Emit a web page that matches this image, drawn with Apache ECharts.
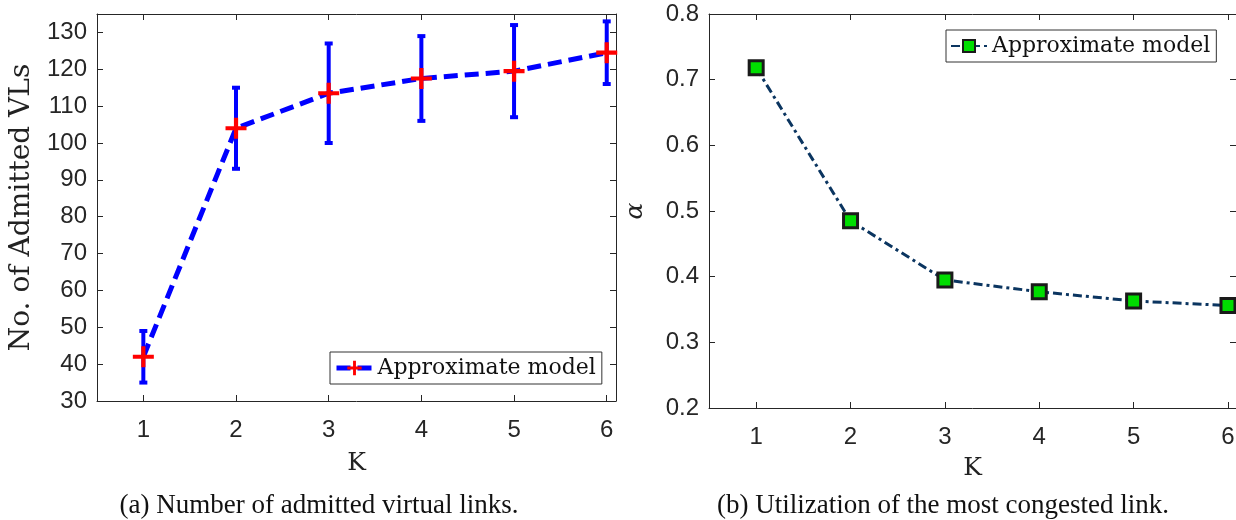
<!DOCTYPE html>
<html>
<head>
<meta charset="utf-8">
<script src="https://cdn.jsdelivr.net/npm/echarts@6/dist/echarts.min.js"></script>
<style>
  html, body { margin: 0; padding: 0; background: #fff; }
  #wrap { position: relative; width: 1236px; height: 520px; }
  .pane { position: absolute; top: 0; width: 618px; height: 520px; }
  #left { left: 0; }
  #right { left: 618px; }
</style>
</head>
<body>
<div id="wrap">
  <div id="left" class="pane"></div>
  <div id="right" class="pane"></div>
</div>
<script>
// K values (x axis)
var kValues = [1, 2, 3, 4, 5, 6];
// (a) admitted VLs: mean, lower and upper error bar ends
var admitted = [42, 104, 113.5, 117.5, 119.5, 124.5];
var admittedLow = [35, 93, 100, 106, 107, 116];
var admittedHigh = [49, 115, 127, 129, 132, 133];
// (b) utilization of the most congested link
var alphaValues = [0.718, 0.485, 0.395, 0.377, 0.363, 0.356];
// tick labels
var kTicks = [1, 2, 3, 4, 5, 6];
var yTicksA = [30, 40, 50, 60, 70, 80, 90, 100, 110, 120, 130];

var tickFont = { fontFamily: 'Liberation Sans', fontSize: 24, color: '#262626' };
var serif = 'DejaVu Serif';
var spine = '#262626';

function frameAxis(extra) {
    var a = {
        axisLine: { show: true, lineStyle: { color: spine, width: 1 } },
        axisTick: { show: true, inside: true, length: 6, lineStyle: { color: spine } },
        splitLine: { show: false }
    };
    for (var k in extra) a[k] = extra[k];
    return a;
}

// ---------- (a) ----------
(function () {
    var myChart = echarts.init(document.getElementById('left'));
    var lineData = kValues.map(function (k, i) { return [k, admitted[i]]; });
    var errData = kValues.map(function (k, i) { return [k, admittedLow[i], admittedHigh[i]]; });

    var option = {
        animation: false,
        title: {
            text: '(a) Number of admitted virtual links.',
            left: 314, top: 487, textAlign: 'center',
            textStyle: { fontFamily: 'Liberation Serif', fontSize: 27, fontWeight: 'normal', color: '#111' }
        },
        grid: { left: 97, right: 2, top: 14, bottom: 119, outerBoundsMode: 'none' },
        legend: {
            left: 330, top: 352,
            padding: [5, 6, 5, 4],
            itemWidth: 36, itemHeight: 18, itemGap: 4,
            borderColor: '#333', borderWidth: 1, backgroundColor: '#fff',
            lineStyle: { width: 5 },
            data: ['Approximate model'],
            textStyle: { fontFamily: serif, fontSize: 22, color: '#111' }
        },
        xAxis: [
            frameAxis({
                type: 'value', min: 0.5, max: 6.1, position: 'bottom',
                name: 'K', nameLocation: 'middle', nameGap: 50,
                nameTextStyle: { fontFamily: serif, fontSize: 25, color: '#222' },
                axisTick: { show: true, inside: true, length: 6, lineStyle: { color: spine }, customValues: kTicks },
                axisLabel: { customValues: kTicks, margin: 17, fontFamily: tickFont.fontFamily, fontSize: tickFont.fontSize, color: tickFont.color }
            }),
            frameAxis({
                type: 'value', min: 0.5, max: 6.1, position: 'top',
                axisTick: { show: true, inside: true, length: 6, lineStyle: { color: spine }, customValues: kTicks },
                axisLabel: { show: false }
            })
        ],
        yAxis: [
            frameAxis({
                type: 'value', min: 30, max: 135, position: 'left',
                name: 'No. of Admitted VLs', nameLocation: 'middle', nameGap: 61,
                nameTextStyle: { fontFamily: serif, fontSize: 28, color: '#222' },
                axisTick: { show: true, inside: true, length: 6, lineStyle: { color: spine }, customValues: yTicksA },
                axisLabel: { customValues: yTicksA, margin: 10, fontFamily: tickFont.fontFamily, fontSize: tickFont.fontSize, color: tickFont.color }
            }),
            frameAxis({
                type: 'value', min: 30, max: 135, position: 'right',
                axisTick: { show: true, inside: true, length: 6, lineStyle: { color: spine }, customValues: yTicksA },
                axisLabel: { show: false }
            })
        ],
        series: [{
            name: 'errorbars',
            type: 'custom',
            z: 2,
            silent: true,
            data: errData,
            renderItem: function (params, api) {
                var x = api.value(0);
                var lo = api.coord([x, api.value(1)]);
                var hi = api.coord([x, api.value(2)]);
                var cap = 4;
                var st = { stroke: '#0000ff', lineWidth: 4 };
                return {
                    type: 'group',
                    children: [
                        { type: 'line', shape: { x1: lo[0], y1: lo[1], x2: hi[0], y2: hi[1] }, style: st },
                        { type: 'line', shape: { x1: lo[0] - cap, y1: lo[1], x2: lo[0] + cap, y2: lo[1] }, style: st },
                        { type: 'line', shape: { x1: hi[0] - cap, y1: hi[1], x2: hi[0] + cap, y2: hi[1] }, style: st }
                    ]
                };
            }
        }, {
            name: 'Approximate model',
            type: 'line',
            z: 3,
            data: lineData,
            symbol: 'path://M8,0h4v8h8v4h-8v8h-4v-8h-8v-4h8z',
            symbolSize: 21,
            itemStyle: { color: '#ff0000' },
            lineStyle: { color: '#0000ff', width: 5, type: [14, 7] }
        }]
    };
    myChart.setOption(option);
    window.addEventListener('resize', function () { myChart.resize(); });
})();

// ---------- (b) ----------
(function () {
    var myChart = echarts.init(document.getElementById('right'));
    var lineData = kValues.map(function (k, i) { return [k, alphaValues[i]]; });

    var option = {
        animation: false,
        title: {
            text: '(b) Utilization of the most congested link.',
            left: 320, top: 487, textAlign: 'center',
            textStyle: { fontFamily: 'Liberation Serif', fontSize: 27, fontWeight: 'normal', color: '#111' }
        },
        grid: { left: 91, right: 0, top: 14, bottom: 112, outerBoundsMode: 'none' },
        legend: {
            left: 328, top: 30,
            padding: [5, 6, 5, 4],
            itemWidth: 36, itemHeight: 15, itemGap: 4,
            borderColor: '#333', borderWidth: 1, backgroundColor: '#fff',
            data: ['Approximate model'],
            textStyle: { fontFamily: serif, fontSize: 22, color: '#111' }
        },
        xAxis: [
            frameAxis({
                type: 'value', min: 0.5, max: 6.085, position: 'bottom',
                name: 'K', nameLocation: 'middle', nameGap: 48,
                nameTextStyle: { fontFamily: serif, fontSize: 25, color: '#222' },
                axisTick: { show: true, inside: true, length: 6, lineStyle: { color: spine }, customValues: kTicks },
                axisLabel: { customValues: kTicks, margin: 17, fontFamily: tickFont.fontFamily, fontSize: tickFont.fontSize, color: tickFont.color }
            }),
            frameAxis({
                type: 'value', min: 0.5, max: 6.085, position: 'top',
                axisTick: { show: true, inside: true, length: 6, lineStyle: { color: spine }, customValues: kTicks },
                axisLabel: { show: false }
            })
        ],
        yAxis: [
            frameAxis({
                type: 'value', min: 0.2, max: 0.8, interval: 0.1, position: 'left',
                name: 'α', nameLocation: 'middle', nameGap: 61, nameRotate: 90,
                nameTextStyle: { fontFamily: serif, fontSize: 25, fontStyle: 'italic', color: '#222' },
                axisLabel: { margin: 10, fontFamily: tickFont.fontFamily, fontSize: tickFont.fontSize, color: tickFont.color }
            }),
            frameAxis({
                type: 'value', min: 0.2, max: 0.8, interval: 0.1, position: 'right',
                axisLabel: { show: false }
            })
        ],
        series: [{
            name: 'Approximate model',
            type: 'line',
            data: lineData,
            symbol: 'rect',
            symbolSize: 14,
            itemStyle: { color: '#00dd00', borderColor: '#1a1a1a', borderWidth: 3 },
            lineStyle: { color: '#0b3560', width: 3, type: [9, 4, 3, 4] }
        }]
    };
    myChart.setOption(option);
    window.addEventListener('resize', function () { myChart.resize(); });
})();
</script>
</body>
</html>
